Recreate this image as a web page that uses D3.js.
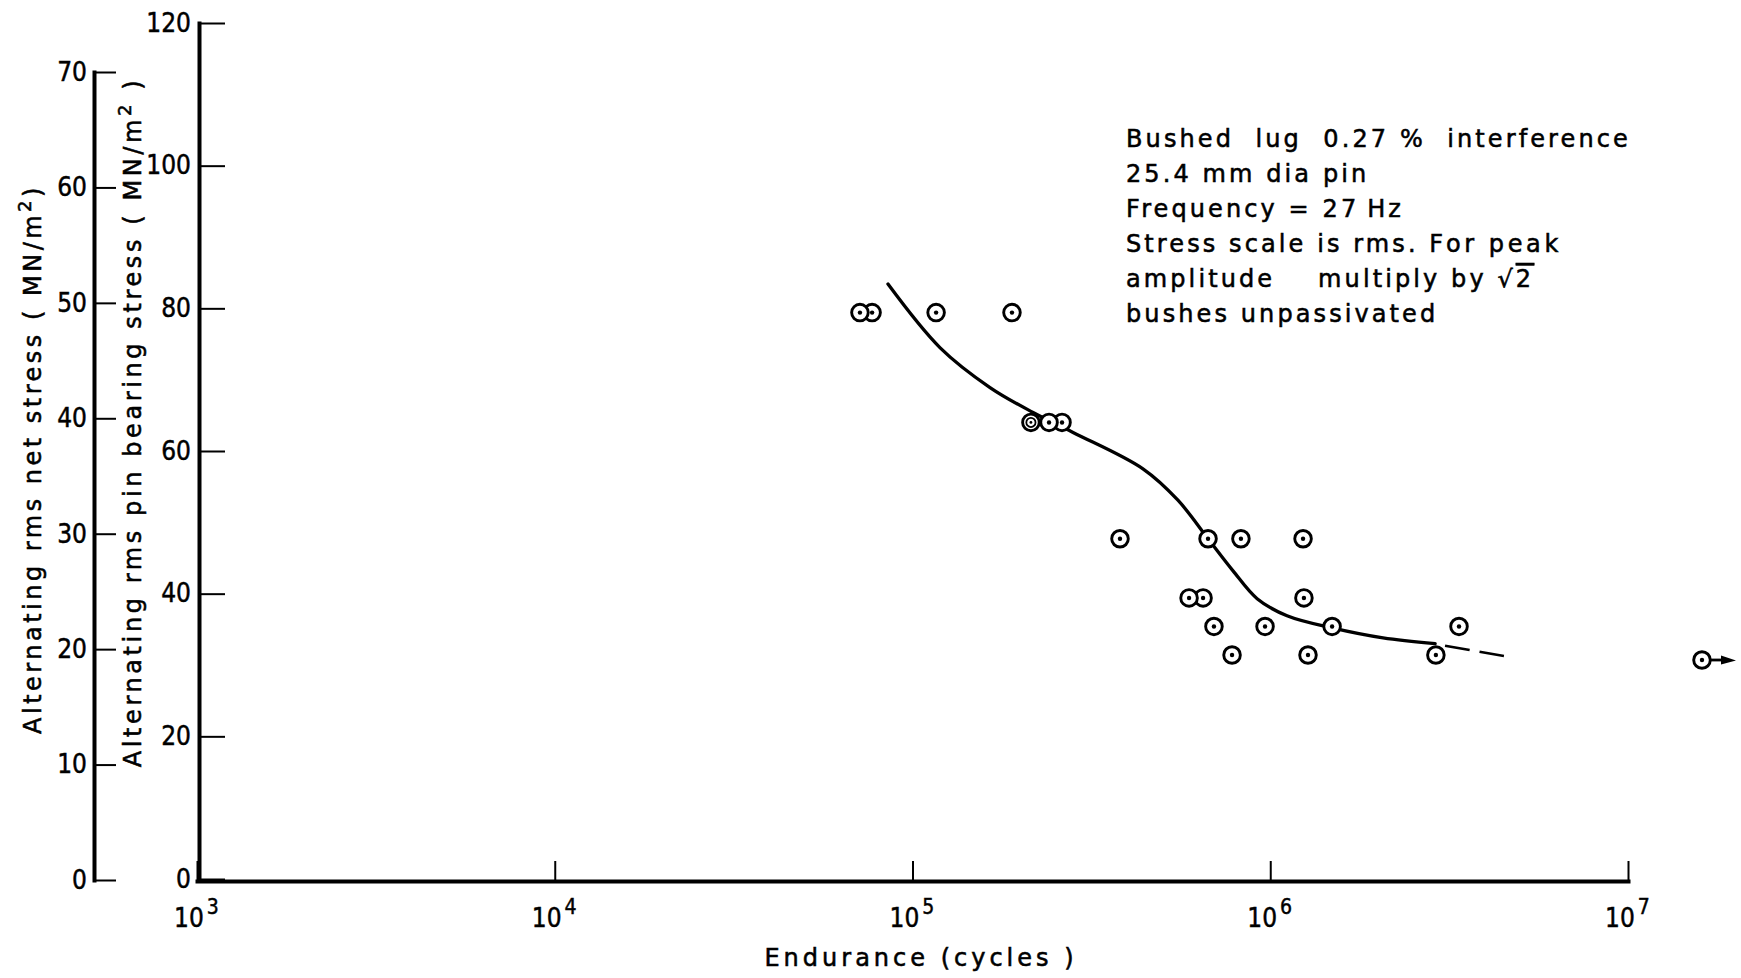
<!DOCTYPE html>
<html><head><meta charset="utf-8">
<script src="https://cdn.jsdelivr.net/npm/d3@7"></script>
<style>
html,body{margin:0;padding:0;background:#fff;}
svg{display:block;}
.num{font-family:'Liberation Sans Narrow','Arial Narrow','DejaVu Sans Condensed',sans-serif;stroke:#000;stroke-width:0.45px;}
.lab{font-family:'DejaVu Sans',sans-serif;white-space:pre;stroke:#000;stroke-width:0.55px;}
</style></head><body>
<svg id="chart" width="1741" height="978"></svg>
<script>
// ---------- data ----------
const netTicks = [0, 10, 20, 30, 40, 50, 60, 70];
const pinTicks = [0, 20, 40, 60, 80, 100, 120];
const xTickValues = [1e3, 1e4, 1e5, 1e6, 1e7];

// test points: endurance (cycles) and rms pin bearing stress (MN/m2)
const endurance = [71300, 77100, 116400, 189700,
                   214300, 240800, 261800,
                   380200, 670000, 828000, 1235000,
                   593000, 649000, 1242000,
                   696000, 967000, 1489000, 3370000,
                   782000, 1275000, 2904000];
const pinStress = [79.4, 79.4, 79.4, 79.4,
                   64, 64, 64,
                   47.7, 47.7, 47.7, 47.7,
                   39.4, 39.4, 39.4,
                   35.4, 35.4, 35.4, 35.4,
                   31.4, 31.4, 31.4];
const markerKind = ["dot","dot","dot","dot",
                    "ring","dot","dot",
                    "dot","dot","dot","dot",
                    "dot","dot","dot",
                    "dot","dot","dot","dot",
                    "dot","dot","dot"];
// unbroken (run-out) specimen
const runoutEndurance = [16100000];
const runoutStress = [30.7];

// mean S-N curve
const curveCycles = [85400, 119300, 164700, 217300, 281000, 440700, 552000, 670000, 787000, 919000, 1114000, 1489000, 2067000, 2890000];
const curveStress = [83.4, 74.5, 68.9, 65.4, 62.6, 57.5, 53.1, 47.7, 43.2, 39.3, 36.9, 35.2, 33.8, 33.0];
// extrapolated (dashed) part
const dashCycles = [3080000, 4500000];
const dashStress = [32.7, 31.25];

const noteLines = [
  "Bushed  lug  0.27 %  interference",
  "25.4 mm dia pin",
  "Frequency = 27\u2009Hz",
  "Stress scale is rms. For peak",
  "amplitude    multiply by √2",
  "bushes unpassivated"
];

// ---------- chart ----------
const svg = d3.select('#chart');
const x = d3.scaleLog().domain([1e3, 1e7]).range([197, 1628]);
const yPin = d3.scaleLinear().domain([0, 120]).range([879, 23]);
const yNet = d3.scaleLinear().domain([0, 70]).range([880, 72]);

function styleAxis(g, size) {
  g.attr('font-size', null).attr('font-family', null);
  g.select('.domain').attr('stroke', '#000').attr('stroke-width', 4).attr('stroke-linecap', 'square');
  g.selectAll('.tick line').attr('stroke', '#000').attr('stroke-width', 2);
  g.selectAll('.tick text').attr('class', 'num').attr('font-size', size).attr('fill', '#000');
}

// net stress axis (outer)
const gNet = svg.append('g').attr('transform', 'translate(94,0)')
  .call(d3.axisLeft(yNet).tickValues(netTicks).tickSizeInner(-22).tickSizeOuter(0).tickPadding(7));
styleAxis(gNet, 26);

// pin bearing stress axis (inner)
const gPin = svg.append('g').attr('transform', 'translate(199,0)')
  .call(d3.axisLeft(yPin).tickValues(pinTicks).tickSizeInner(-26).tickSizeOuter(0).tickPadding(8));
styleAxis(gPin, 26);

// endurance axis
const gx = svg.append('g').attr('transform', 'translate(0,881)')
  .call(d3.axisBottom(x).tickValues(xTickValues).tickSizeInner(-20).tickSizeOuter(0).tickFormat(() => ''));
styleAxis(gx, 26);
gx.selectAll('.tick text').each(function(d) {
  const t = d3.select(this);
  t.text(null).attr('y', 46).attr('dy', null).attr('x', -1).attr('text-anchor', 'middle');
  t.append('tspan').text('10');
  t.append('tspan').attr('dy', -13).attr('dx', 3).attr('font-size', 21).text(String(Math.round(Math.log10(d))));
});

// axis titles
svg.append('text').attr('class', 'lab').attr('font-size', 24).attr('letter-spacing', 3.5)
  .attr('text-anchor', 'middle')
  .attr('transform', 'translate(41,459) rotate(-90)')
  .call(t => {
    t.append('tspan').text('Alternating rms net stress ( MN/m');
    t.append('tspan').attr('dy', -10).attr('font-size', 18).text('2');
    t.append('tspan').attr('dy', 10).text(')');
  });
svg.append('text').attr('class', 'lab').attr('font-size', 24).attr('letter-spacing', 3.6)
  .attr('text-anchor', 'middle')
  .attr('transform', 'translate(141,422) rotate(-90)')
  .call(t => {
    t.append('tspan').text('Alternating rms pin bearing stress ( MN/m');
    t.append('tspan').attr('dy', -10).attr('font-size', 18).text('2');
    t.append('tspan').attr('dy', 10).text(' )');
  });
svg.append('text').attr('class', 'lab').attr('font-size', 24).attr('letter-spacing', 4)
  .attr('text-anchor', 'middle').attr('x', 921).attr('y', 966)
  .text('Endurance (cycles )');

// annotation block
const note = svg.append('text').attr('class', 'lab').attr('font-size', 24).attr('letter-spacing', 3.1);
noteLines.forEach((s, i) => {
  const ts = note.append('tspan').attr('x', 1126).attr('y', 147 + i * 35);
  if (s.includes('√2')) {
    ts.text(s.replace('√2', '√'));
    note.append('tspan').attr('text-decoration', 'overline').text('2');
  } else if (s.includes('For peak')) {
    ts.text(s.replace('For peak', ''));
    note.append('tspan').attr('letter-spacing', 3.6).text('For peak');
  } else {
    ts.text(s);
  }
});

// S-N curve
const line = d3.line().x(d => x(d[0])).y(d => yPin(d[1])).curve(d3.curveCatmullRom.alpha(0.5));
svg.append('path').datum(curveCycles.map((c, i) => [c, curveStress[i]]))
  .attr('d', line).attr('fill', 'none').attr('stroke', '#000').attr('stroke-width', 3.3).attr('stroke-linecap', 'round');
svg.append('path').datum(dashCycles.map((c, i) => [c, dashStress[i]]))
  .attr('d', d3.line().x(d => x(d[0])).y(d => yPin(d[1])))
  .attr('fill', 'none').attr('stroke', '#000').attr('stroke-width', 2.6).attr('stroke-dasharray', '25,10');

// markers (draw right-to-left so left circles sit on top)
const pts = endurance.map((n, i) => ({ n, s: pinStress[i], m: markerKind[i] })).sort((a, b) => b.n - a.n);
const mk = svg.append('g').selectAll('g').data(pts).join('g')
  .attr('transform', d => `translate(${x(d.n)},${yPin(d.s)})`);
mk.append('circle').attr('r', 8.3).attr('fill', '#fff').attr('stroke', '#000').attr('stroke-width', 2.9);
mk.filter(d => d.m === 'dot').append('circle').attr('r', 2.2).attr('fill', '#000');
mk.filter(d => d.m === 'ring').append('circle').attr('r', 4.6).attr('fill', 'none').attr('stroke', '#000').attr('stroke-width', 1.8);
mk.filter(d => d.m === 'ring').append('circle').attr('r', 1.4).attr('fill', '#000');

// run-out specimen with arrow
const ro = svg.append('g').selectAll('g').data(runoutEndurance.map((n, i) => ({ n, s: runoutStress[i] }))).join('g')
  .attr('transform', d => `translate(${x(d.n)},${yPin(d.s)})`);
ro.append('line').attr('x1', 9).attr('x2', 22).attr('y1', 0).attr('y2', 0).attr('stroke', '#000').attr('stroke-width', 2.8);
ro.append('path').attr('d', 'M19,-4.5 L34,0.5 L19,4.5 Z').attr('fill', '#000');
ro.append('circle').attr('r', 8.3).attr('fill', '#fff').attr('stroke', '#000').attr('stroke-width', 2.9);
ro.append('circle').attr('r', 2.2).attr('fill', '#000');
</script>
</body></html>
